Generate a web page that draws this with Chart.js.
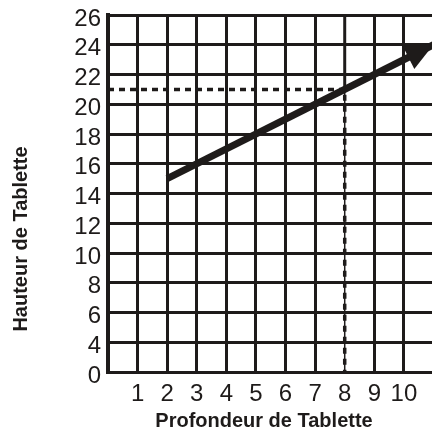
<!DOCTYPE html>
<html lang="fr">
<head>
<meta charset="utf-8">
<title>Hauteur de Tablette</title>
<script src="https://cdn.jsdelivr.net/npm/chart.js@4.4.1/dist/chart.umd.min.js"></script>
<style>
    html, body { margin: 0; padding: 0; background: #fff; }
</style>
</head>
<body>
<canvas id="chart" width="432" height="435"></canvas>
<script>
    // Valeurs
    var depthTicks = [1, 2, 3, 4, 5, 6, 7, 8, 9, 10];
    var heightTicks = [0, 4, 6, 8, 10, 12, 14, 16, 18, 20, 22, 24, 26]; // l'axe saute de 0 à 4
    var lineDepth = [2, 11];
    var lineHeight = [15, 24];
    var guideDepth = [0, 8, 8];
    var guideHeight = [21, 21, 0];
    var upperGridDepth = [8, 8];   // partie pleine de la ligne x = 8
    var upperGridHeight = [21, 26];
    var lowerGridDepth = [8, 8];   // trait fin sous les tirets
    var lowerGridHeight = [0, 21];

    var ink = '#1e1b1a';
    var font = '"Liberation Sans", Arial, Helvetica, sans-serif';

    // Position sur l'axe vertical (une case par graduation)
    function heightToAxis(h) {
        for (var i = 0; i < heightTicks.length - 1; i++) {
            var a = heightTicks[i], b = heightTicks[i + 1];
            if (h >= a && h <= b) return i + (h - a) / (b - a);
        }
        return heightTicks.length - 1;
    }

    function toPoints(xs, ys) {
        return xs.map(function (x, i) { return {x: x, y: heightToAxis(ys[i])}; });
    }

    // Pointe de flèche au bout de la droite
    var arrowHead = {
        id: 'arrowHead',
        afterDatasetsDraw: function (chart) {
            var pts = chart.getDatasetMeta(0).data;
            var p1 = pts[pts.length - 2], p2 = pts[pts.length - 1];
            var dx = p2.x - p1.x, dy = p2.y - p1.y;
            var len = Math.sqrt(dx * dx + dy * dy);
            var ux = dx / len, uy = dy / len;
            var L = 28, W = 13;
            var ctx = chart.ctx;
            ctx.save();
            ctx.fillStyle = ink;
            ctx.beginPath();
            ctx.moveTo(p2.x, p2.y);
            ctx.lineTo(p2.x - ux * L - uy * W, p2.y - uy * L + ux * W);
            ctx.lineTo(p2.x - ux * L + uy * W, p2.y - uy * L - ux * W);
            ctx.closePath();
            ctx.fill();
            ctx.restore();
        }
    };

    // Titres des axes
    var axisTitles = {
        id: 'axisTitles',
        afterDraw: function (chart) {
            var ctx = chart.ctx;
            ctx.save();
            ctx.fillStyle = ink;
            ctx.font = 'bold 20px ' + font;
            ctx.textAlign = 'center';
            ctx.textBaseline = 'middle';
            ctx.fillText('Profondeur de Tablette', 264, 421);
            ctx.translate(21, 239);
            ctx.rotate(-Math.PI / 2);
            ctx.fillText('Hauteur de Tablette', 0, 0);
            ctx.restore();
        }
    };

    var ctx = document.getElementById('chart').getContext('2d');
    var chart = new Chart(ctx, {
        type: 'line',
        data: {
            datasets: [{
                data: toPoints(lineDepth, lineHeight),
                borderColor: ink,
                borderWidth: 7,
                borderCapStyle: 'butt',
                pointRadius: 0,
                clip: false
            }, {
                data: toPoints(guideDepth, guideHeight),
                borderColor: ink,
                borderWidth: 3.5,
                borderDash: [6, 5],
                pointRadius: 0
            }, {
                data: toPoints(upperGridDepth, upperGridHeight),
                borderColor: ink,
                borderWidth: 3,
                pointRadius: 0
            }, {
                data: toPoints(lowerGridDepth, lowerGridHeight),
                borderColor: ink,
                borderWidth: 1.5,
                pointRadius: 0
            }]
        },
        options: {
            responsive: false,
            animation: false,
            devicePixelRatio: 1,
            layout: {padding: {top: 15, right: 0, left: 0, bottom: 0}},
            plugins: {
                legend: {display: false},
                tooltip: {enabled: false}
            },
            scales: {
                x: {
                    type: 'linear',
                    min: 0,
                    max: 10.95,
                    afterFit: function (s) { s.height = 63; s.paddingRight = 0; s.paddingLeft = 0; },
                    ticks: {
                        stepSize: 1,
                        includeBounds: false,
                        autoSkip: false,
                        maxRotation: 0,
                        padding: 8,
                        color: ink,
                        font: {family: font, size: 24},
                        callback: function (v) { return depthTicks.indexOf(v) >= 0 ? String(v) : ''; }
                    },
                    grid: {
                        color: function (c) { return c.tick && c.tick.value === 8 ? 'rgba(0,0,0,0)' : ink; },
                        lineWidth: 3,
                        drawTicks: false
                    },
                    border: {color: ink, width: 3}
                },
                y: {
                    type: 'linear',
                    min: 0,
                    max: heightTicks.length - 1,
                    afterFit: function (s) { s.width = 108; s.paddingTop = 0; s.paddingBottom = 0; },
                    ticks: {
                        stepSize: 1,
                        autoSkip: false,
                        padding: 7,
                        labelOffset: 4,
                        color: ink,
                        font: {family: font, size: 24},
                        callback: function (v) { return heightTicks[v] !== undefined ? String(heightTicks[v]) : ''; }
                    },
                    grid: {color: ink, lineWidth: 3, drawTicks: false},
                    border: {color: ink, width: 4}
                }
            }
        },
        plugins: [arrowHead, axisTitles]
    });
</script>
</body>
</html>
